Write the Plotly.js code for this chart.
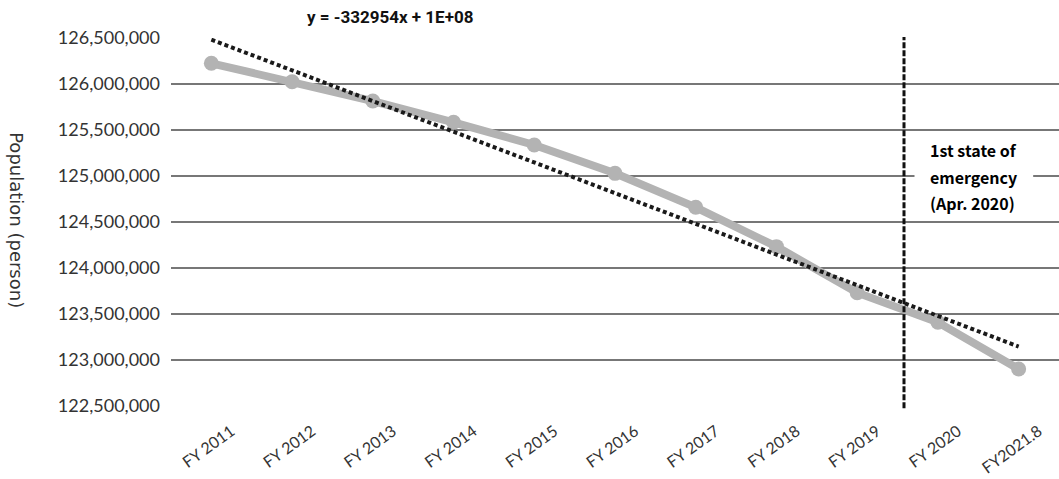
<!DOCTYPE html>
<html>
<head>
<meta charset="utf-8">
<script src="https://cdn.plot.ly/plotly-3.0.1.min.js"></script>
<style>html,body{margin:0;padding:0;background:#fff;}#chart{width:1059px;height:479px;}</style>
</head>
<body>
<div id="chart"></div>
<script>
// ---- data ----
const categories = ["FY 2011","FY 2012","FY 2013","FY 2014","FY 2015","FY 2016","FY 2017","FY 2018","FY 2019","FY 2020","FY2021.8"];
const population = [126225000,126025000,125815000,125584000,125337000,125029000,124660000,124232000,123732000,123410000,122902000];
const yTickValues = [122500000,123000000,123500000,124000000,124500000,125000000,125500000,126000000,126500000];
const trendLabel = "y = -332954x + 1E+08";
const emergencyLines = ["1st state of", "emergency", "(Apr. 2020)"];
const emergencyPosition = 8.58; // between FY 2019 and FY 2020 (category index)

// linear trendline (least squares) through the series, like the spreadsheet trendline
const n = population.length;
const xs = population.map((_, i) => i + 1);
const mx = xs.reduce((a, b) => a + b, 0) / n;
const my = population.reduce((a, b) => a + b, 0) / n;
let sxy = 0, sxx = 0;
for (let i = 0; i < n; i++) { sxy += (xs[i] - mx) * (population[i] - my); sxx += (xs[i] - mx) ** 2; }
const slope = sxy / sxx, intercept = my - slope * mx;
const trend = xs.map(x => slope * x + intercept);

const tickFont = {family: "Lato, 'Open Sans', sans-serif", size: 18, color: "#333"};

const traces = [
  {x: categories, y: population, type: "scatter", mode: "lines+markers",
   line: {color: "#b3b3b3", width: 8}, marker: {color: "#b3b3b3", size: 15},
   hoverinfo: "skip", showlegend: false},
  {x: categories, y: trend, type: "scatter", mode: "lines",
   line: {color: "#1a1a1a", width: 4, dash: "4px,3px"},
   hoverinfo: "skip", showlegend: false}
];

const emergencyY = [0.6957, 0.6223, 0.5516];
const emergencyAnnotations = emergencyLines.map((t, i) => ({
  text: t, xref: "x", yref: "paper", x: emergencyPosition, xshift: 24, y: emergencyY[i],
  showarrow: false, xanchor: "left", yanchor: "middle", align: "left",
  font: {family: "'Noto Sans CJK JP', sans-serif", size: 16, color: "#000", weight: "bold"}
}));

const layout = {
  width: 1059, height: 479,
  margin: {l: 171, r: 0, t: 38, b: 73},
  paper_bgcolor: "#fff", plot_bgcolor: "#fff",
  showlegend: false,
  xaxis: {type: "category", range: [-0.5, 10.5], showgrid: false, zeroline: false,
          showline: false, ticks: "", tickangle: -36, tickfont: {family: "Lato, 'Open Sans', sans-serif", size: 16, color: "#333"},
          ticklabelshift: 20, ticklabelstandoff: 12, fixedrange: true},
  yaxis: {range: [122500000, 126500000], tickvals: yTickValues, tickformat: ",d",
          showgrid: true, gridcolor: "#777", gridwidth: 1.6, zeroline: false,
          showline: false, ticks: "", tickfont: tickFont, ticklabelstandoff: 10, fixedrange: true},
  shapes: [
    {type: "rect", xref: "x", yref: "paper", x0: emergencyPosition + 0.13, x1: emergencyPosition + 1.6,
     y0: 0.51, y1: 0.72, fillcolor: "#fff", line: {width: 0}, layer: "above"},
    {type: "line", xref: "x", yref: "paper", x0: emergencyPosition, x1: emergencyPosition,
     y0: -0.006, y1: 1.003, line: {color: "#111", width: 3, dash: "6px,2px"}, layer: "above"}
  ],
  annotations: [
    {text: trendLabel, xref: "paper", yref: "paper", x: 0.2466, y: 1.057, showarrow: false,
     xanchor: "center", yanchor: "middle",
     font: {family: "Roboto, sans-serif", size: 17, color: "#111", weight: "bold"}},
    ...emergencyAnnotations,
    {text: "Population (person)", xref: "paper", yref: "paper", x: 0, xshift: -154, y: 0.505,
     showarrow: false, textangle: 90, xanchor: "center", yanchor: "middle",
     font: {family: "'DejaVu Sans', sans-serif", size: 18, color: "#333"}}
  ]
};

Plotly.newPlot("chart", traces, layout, {displayModeBar: false, staticPlot: true});
</script>
</body>
</html>
